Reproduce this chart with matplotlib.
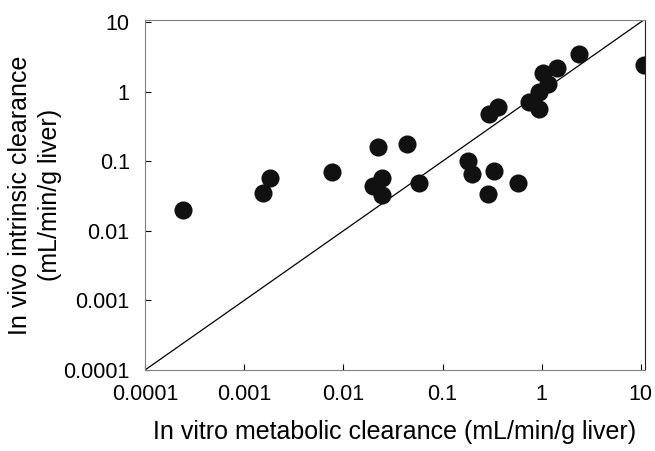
import matplotlib.pyplot as plt
from matplotlib.ticker import FixedLocator, NullLocator

plt.rcParams['font.family'] = ['Liberation Sans', 'DejaVu Sans']

# in vitro metabolic clearance (x) and in vivo intrinsic clearance (y)
invitro = [0.000243, 0.00156, 0.00182, 0.0076, 0.0222, 0.020, 0.0247, 0.0247,
           0.0435, 0.0578, 0.179, 0.196, 0.285, 0.33, 0.579, 0.296, 0.365,
           0.748, 0.944, 0.944, 1.16, 1.02, 1.41, 2.37, 10.7]
invivo = [0.0202, 0.035, 0.0574, 0.069, 0.158, 0.0447, 0.057, 0.033,
          0.179, 0.0486, 0.0998, 0.065, 0.0339, 0.0725, 0.0493, 0.471, 0.60,
          0.70, 0.569, 1.0, 1.30, 1.85, 2.18, 3.49, 2.38]

ticks = [0.0001, 0.001, 0.01, 0.1, 1, 10]
tick_labels = ["0.0001", "0.001", "0.01", "0.1", "1", "10"]

fig = plt.figure(figsize=(6.55, 4.51), dpi=100)
ax = fig.add_axes([0.2214, 0.1796, 0.7633, 0.7761])

# line of unity
ax.plot([1e-4, 11], [1e-4, 11], color='black', lw=0.9, zorder=1)
ax.scatter(invitro, invivo, s=170, color='#111111', zorder=2, linewidths=0)

ax.set_xscale('log')
ax.set_yscale('log')
ax.set_xlim(1e-4, 11)
ax.set_ylim(1e-4, 10.7)

ax.xaxis.set_major_locator(FixedLocator(ticks))
ax.yaxis.set_major_locator(FixedLocator(ticks))
ax.xaxis.set_minor_locator(NullLocator())
ax.yaxis.set_minor_locator(NullLocator())
ax.set_xticklabels(tick_labels)
ax.set_yticklabels(tick_labels)
ax.tick_params(direction='in', length=4, width=0.8, labelsize=15.5)
ax.tick_params(axis='x', pad=10)
ax.tick_params(axis='y', pad=11)

for side in ['left', 'top', 'bottom']:
    ax.spines[side].set_color('#808080')
ax.spines['right'].set_color('#222222')

ax.set_xlabel("In vitro metabolic clearance (mL/min/g liver)", fontsize=18, labelpad=11)
ax.set_ylabel("In vivo intrinsic clearance\n(mL/min/g liver)", fontsize=18,
              labelpad=1, linespacing=1.3)

fig.savefig("out.png", dpi=100)
